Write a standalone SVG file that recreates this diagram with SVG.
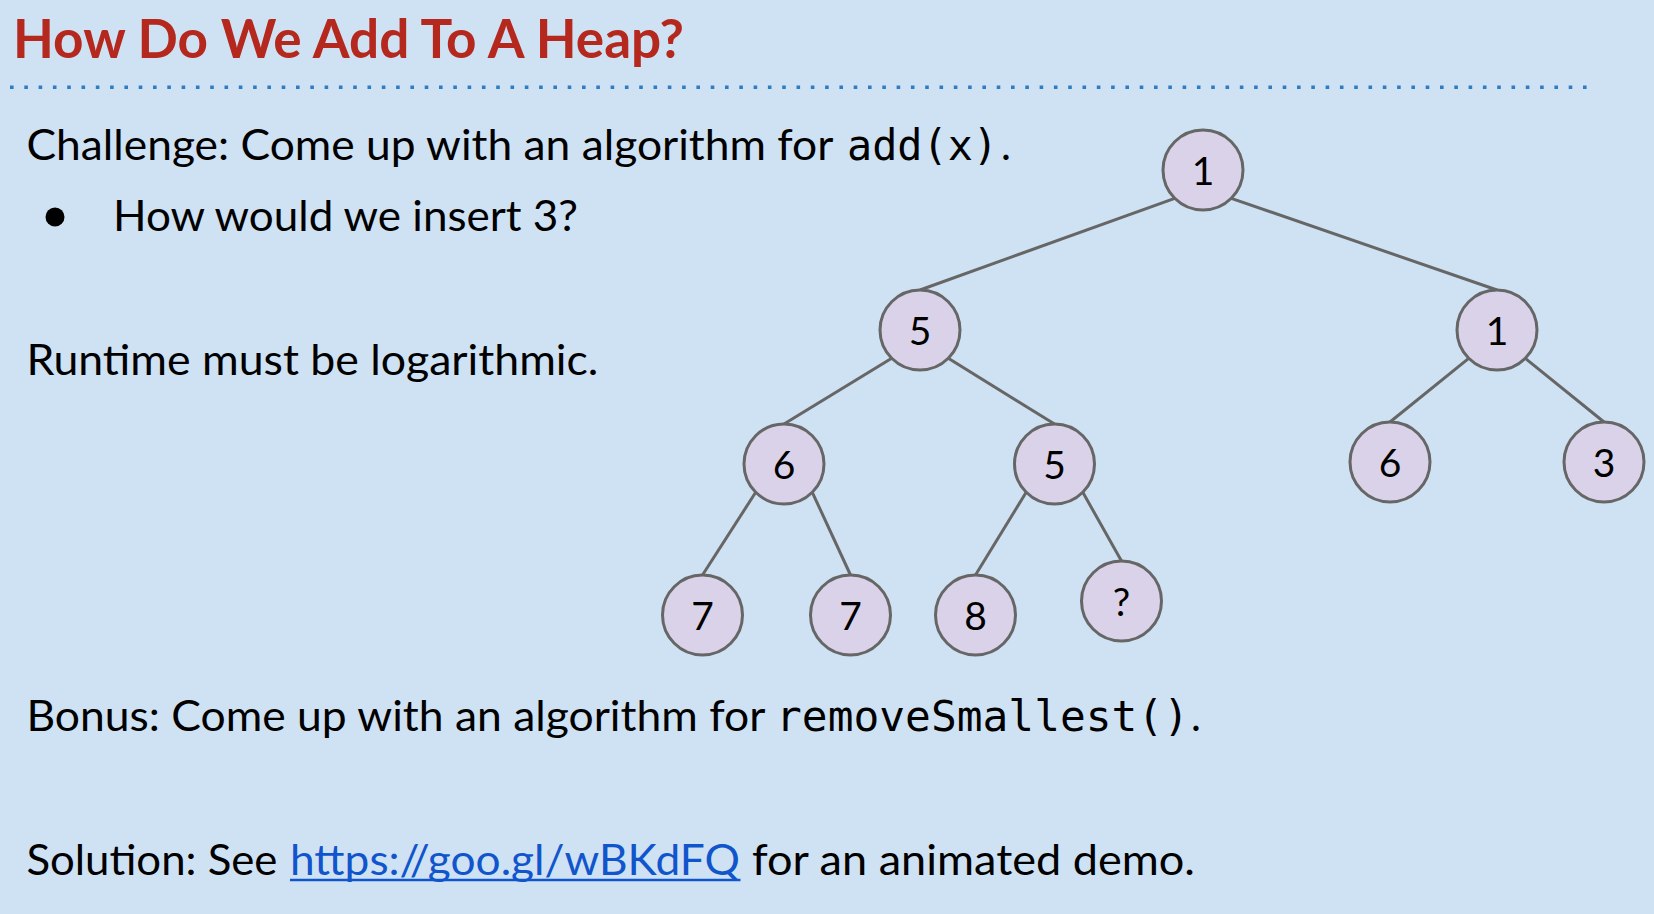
<svg xmlns="http://www.w3.org/2000/svg" width="1654" height="914" viewBox="0 0 1654 914">
  <style>
    .title { font-family: Lato, "Open Sans", sans-serif; font-weight: bold; font-size: 53px; fill: #b5281e; }
    .body { font-family: Lato, "Open Sans", sans-serif; font-size: 42px; fill: #000000; }
    .mono { font-family: "DejaVu Sans Mono", "Liberation Mono", monospace; font-size: 42px; fill: #000000; }
    .link { font-family: Lato, "Open Sans", sans-serif; font-size: 42px; fill: #1155cc; }
    .node circle { fill: #d9d2e9; stroke: #666666; stroke-width: 3; }
    .node text { font-family: Lato, "Open Sans", sans-serif; font-size: 39px; fill: #000000; text-anchor: middle; }
    #connectors line { stroke: #666666; stroke-width: 3; }
  </style>

  <!-- slide background -->
  <rect x="0" y="0" width="1654" height="914" fill="#cfe2f3"/>

  <!-- heading and dotted rule -->
  <text class="title" x="13" y="58" textLength="671" lengthAdjust="spacingAndGlyphs">How Do We Add To A Heap?</text>
  <line x1="10" y1="87.3" x2="1590" y2="87.3" stroke="#2f7cc4" stroke-width="3.6" stroke-dasharray="3.6 10.7"/>

  <!-- prose -->
  <text class="body" x="26.4" y="160" textLength="807" lengthAdjust="spacingAndGlyphs">Challenge: Come up with an algorithm for</text>
  <text class="mono" x="847" y="160" textLength="151" lengthAdjust="spacingAndGlyphs">add(x)</text>
  <text class="body" x="1001" y="160">.</text>

  <circle cx="55" cy="217" r="9.5" fill="#000000"/>
  <text class="body" x="113" y="231" textLength="465" lengthAdjust="spacingAndGlyphs">How would we insert 3?</text>

  <text class="body" x="26.4" y="375" textLength="572" lengthAdjust="spacingAndGlyphs">Runtime must be logarithmic.</text>

  <text class="body" x="26.4" y="731" textLength="739" lengthAdjust="spacingAndGlyphs">Bonus: Come up with an algorithm for</text>
  <text class="mono" x="776" y="731" textLength="413" lengthAdjust="spacingAndGlyphs">removeSmallest()</text>
  <text class="body" x="1191" y="731">.</text>

  <text class="body" x="26.4" y="875" textLength="251" lengthAdjust="spacingAndGlyphs">Solution: See</text>
  <text class="link" x="290" y="875" textLength="450" lengthAdjust="spacingAndGlyphs">https://goo.gl/wBKdFQ</text>
  <line x1="290" y1="880" x2="740.5" y2="880" stroke="#1155cc" stroke-width="2.6"/>
  <text class="body" x="752" y="875" textLength="443" lengthAdjust="spacingAndGlyphs">for an animated demo.</text>

  <!-- tree edges: parent 45-degree point to child top -->
  <g id="connectors">
    <line x1="1174.7" y1="198.3" x2="920" y2="290"/>
    <line x1="1231.3" y1="198.3" x2="1497" y2="290"/>
    <line x1="891.7" y1="358.3" x2="784" y2="424"/>
    <line x1="948.3" y1="358.3" x2="1054.5" y2="424"/>
    <line x1="1468.7" y1="358.3" x2="1390" y2="422"/>
    <line x1="1525.3" y1="358.3" x2="1604" y2="422"/>
    <line x1="755.7" y1="492.3" x2="702.5" y2="575"/>
    <line x1="812.3" y1="492.3" x2="850.5" y2="575"/>
    <line x1="1026.2" y1="492.3" x2="975.5" y2="575"/>
    <line x1="1082.8" y1="492.3" x2="1121.5" y2="561"/>
  </g>

  <!-- heap nodes -->
  <g id="node-root" class="node"><circle cx="1203" cy="170" r="40"/><text x="1203" y="185">1</text></g>
  <g id="node-l5" class="node"><circle cx="920" cy="330" r="40"/><text x="920" y="345">5</text></g>
  <g id="node-r1" class="node"><circle cx="1497" cy="330" r="40"/><text x="1497" y="345">1</text></g>
  <g id="node-ll6" class="node"><circle cx="784" cy="464" r="40"/><text x="784" y="479">6</text></g>
  <g id="node-lr5" class="node"><circle cx="1054.5" cy="464" r="40"/><text x="1054.5" y="479">5</text></g>
  <g id="node-rl6" class="node"><circle cx="1390" cy="462" r="40"/><text x="1390" y="477">6</text></g>
  <g id="node-rr3" class="node"><circle cx="1604" cy="462" r="40"/><text x="1604" y="477">3</text></g>
  <g id="node-lll7" class="node"><circle cx="702.5" cy="615" r="40"/><text x="702.5" y="630">7</text></g>
  <g id="node-llr7" class="node"><circle cx="850.5" cy="615" r="40"/><text x="850.5" y="630">7</text></g>
  <g id="node-lrl8" class="node"><circle cx="975.5" cy="615" r="40"/><text x="975.5" y="630">8</text></g>
  <g id="node-lrr-new" class="node"><circle cx="1121.5" cy="601" r="40"/><text x="1121.5" y="616">?</text></g>
</svg>
